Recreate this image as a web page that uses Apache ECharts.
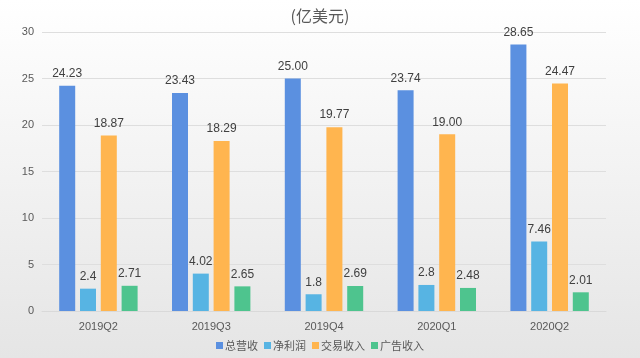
<!DOCTYPE html>
<html><head><meta charset="utf-8">
<script src="https://cdn.jsdelivr.net/npm/echarts@6/dist/echarts.min.js"></script>
<style>html,body{margin:0;padding:0;}#c{width:640px;height:358px;background:linear-gradient(#ffffff,#e5e5e5);}</style>
</head><body><div id="c"></div>
<script>
const categories = ['2019Q2','2019Q3','2019Q4','2020Q1','2020Q2'];
const totalRevenue = [24.23, 23.43, 25.00, 23.74, 28.65];
const netProfit = [2.4, 4.02, 1.8, 2.8, 7.46];
const tradeRevenue = [18.87, 18.29, 19.77, 19.00, 24.47];
const adRevenue = [2.71, 2.65, 2.69, 2.48, 2.01];
const seriesNames = ['总营收','净利润','交易收入','广告收入'];
const yTicks = [0, 5, 10, 15, 20, 25, 30];
const labelsText = [
  ['24.23','23.43','25.00','23.74','28.65'],
  ['2.4','4.02','1.8','2.8','7.46'],
  ['18.87','18.29','19.77','19.00','24.47'],
  ['2.71','2.65','2.69','2.48','2.01']
];
const colors = ['#5b90e0','#57b4e3','#ffb54f','#4ec48e'];
const allData = [totalRevenue, netProfit, tradeRevenue, adRevenue];

const chart = echarts.init(document.getElementById('c'), null, {renderer:'canvas'});
chart.setOption({
  backgroundColor: 'transparent',
  textStyle: {fontFamily: '"Noto Sans CJK SC", "Liberation Sans", sans-serif'},
  title: {text: '(亿美元)', left: 'center', top: 3,
    textStyle: {fontSize: 16, fontWeight: 'normal', color: '#595959', fontFamily: '"Noto Sans CJK SC", sans-serif'}},
  legend: {data: seriesNames, bottom: 2, left: 'center', itemWidth: 7, itemHeight: 7, itemGap: 6,
    icon: 'rect', textStyle: {fontSize: 11, color: '#595959', padding: [0,0,0,-3]}},
  grid: {left: 42, right: 34, top: 32, bottom: 47, containLabel: false},
  xAxis: {type: 'category', data: categories,
    axisLine: {lineStyle: {color: '#d9d9d9'}}, axisTick: {show: false},
    axisLabel: {color: '#595959', fontSize: 11, margin: 10, fontFamily: '"Liberation Sans", sans-serif'}},
  yAxis: {type: 'value', min: yTicks[0], max: yTicks[yTicks.length-1], interval: 5,
    axisLine: {show: false}, axisTick: {show: false},
    splitLine: {lineStyle: {color: '#dedede'}},
    axisLabel: {color: '#595959', fontSize: 11, margin: 8, fontFamily: '"Liberation Sans", sans-serif'}},
  series: seriesNames.map((n, i) => ({
    name: n, type: 'bar', data: allData[i], barWidth: 16, barGap: '30%',
    itemStyle: {color: colors[i]},
    label: {show: true, position: 'top', distance: 6, color: '#404040', fontSize: 12,
      fontFamily: '"Liberation Sans", sans-serif',
      formatter: p => labelsText[i][p.dataIndex]}
  }))
});
</script></body></html>
